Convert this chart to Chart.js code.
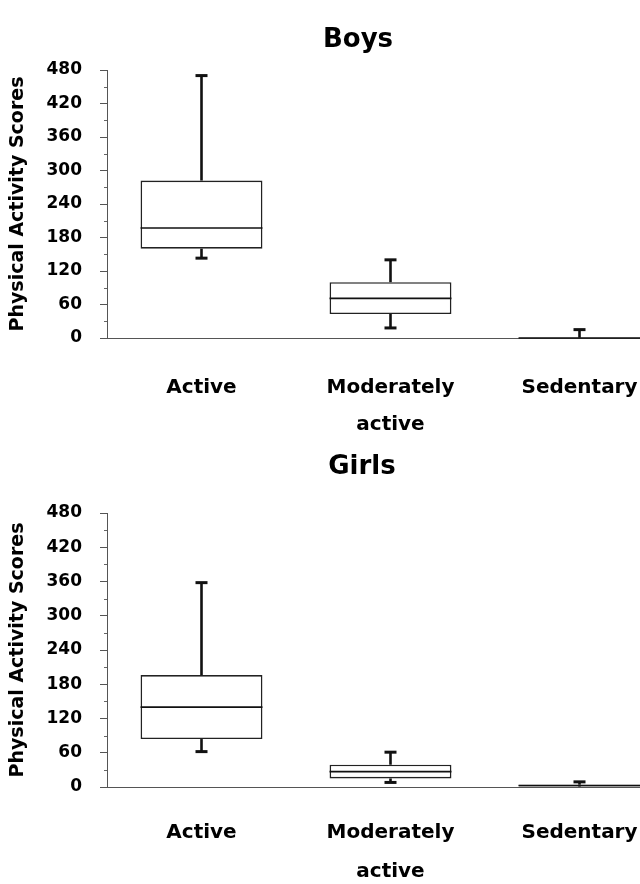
<!DOCTYPE html>
<html>
<head>
<meta charset="utf-8">
<script src="https://cdn.jsdelivr.net/npm/chart.js@4/dist/chart.umd.min.js"></script>
<style>
html,body{margin:0;padding:0;background:#fff;width:640px;height:884px;overflow:hidden;}
.panel{position:absolute;left:0;width:640px;overflow:hidden;background:#fff;}
.panel canvas{position:absolute;left:0;top:0;}
.ttl{position:absolute;font-family:"DejaVu Sans",sans-serif;font-weight:bold;font-size:26px;line-height:30px;color:#000;transform:translateX(-50%);white-space:nowrap;}
</style>
</head>
<body>
<div class="panel" style="top:0;height:440px;">
  <canvas id="c1" width="680" height="440"></canvas>
  <div class="ttl" style="left:358px;top:23px;">Boys</div>
</div>
<div class="panel" style="top:440px;height:444px;">
  <canvas id="c2" width="680" height="444"></canvas>
  <div class="ttl" style="left:362px;top:10px;">Girls</div>
</div>
<script>
// ---- data ----
const categories = [['Active'], ['Moderately', 'active'], ['Sedentary']];
const yTickValues = [0, 60, 120, 180, 240, 300, 360, 420, 480];
const yMinorTickValues = [30, 90, 150, 210, 270, 330, 390, 450];
const yAxisTitle = 'Physical Activity Scores';

const boysMin    = [143, 18, 0];
const boysQ1     = [160, 43, 0];
const boysMedian = [197, 71, 0];
const boysQ3     = [282, 100, 0.5];
const boysMax    = [470, 140, 15];

const girlsMin    = [62, 8, 0];
const girlsQ1     = [84, 15, 1];
const girlsMedian = [140, 27, 2.5];
const girlsQ3     = [196, 39, 4];
const girlsMax    = [358, 61, 9];

// ---- box & whisker drawing using the chart's own scales ----
const boxWhisker = {
  id: 'boxWhisker',
  afterDatasetsDraw(chart, args, opts) {
    const ctx = chart.ctx;
    const y = chart.scales.y;
    const meta = chart.getDatasetMeta(0);
    const line = (x1, y1, x2, y2) => { ctx.beginPath(); ctx.moveTo(x1, y1); ctx.lineTo(x2, y2); ctx.stroke(); };
    ctx.save();
    ctx.strokeStyle = '#111';
    meta.data.forEach((bar, i) => {
      const x = bar.x, hw = bar.width / 2;
      const pMed = y.getPixelForValue(opts.median[i]);
      const pQ1 = y.getPixelForValue(opts.q1[i]);
      const pQ3 = y.getPixelForValue(opts.q3[i]);
      const pMin = y.getPixelForValue(opts.min[i]);
      const pMax = y.getPixelForValue(opts.max[i]);
      ctx.lineWidth = 1.6;
      line(x - hw, pMed, x + hw, pMed);
      ctx.lineWidth = 2.6;
      if (pMax < pQ3) line(x, pQ3, x, pMax);
      if (pMin > pQ1) line(x, pQ1, x, pMin);
      ctx.lineWidth = 3;
      line(x - 6, pMax, x + 6, pMax);
      if (opts.min[i] > 0) line(x - 6, pMin, x + 6, pMin);
    });
    // minor ticks on the y axis
    ctx.strokeStyle = '#666';
    ctx.lineWidth = 1;
    const ax = chart.chartArea.left;
    yMinorTickValues.forEach(v => {
      const py = Math.round(y.getPixelForValue(v)) + 0.5;
      line(ax - 3, py, ax, py);
    });
    ctx.restore();
  }
};

function makeChart(id, q1, med, q3, mn, mx, topPad, xHeight, firstLinePad, lineH) {
  const tickFont = { family: 'DejaVu Sans', weight: 'bold', size: 17 };
  return new Chart(document.getElementById(id), {
    type: 'bar',
    data: {
      labels: categories,
      datasets: [{
        data: q1.map((v, i) => [v, q3[i]]),
        backgroundColor: '#ffffff',
        borderColor: '#222',
        borderWidth: 1.6,
        borderSkipped: false,
        categoryPercentage: 1,
        barPercentage: 0.645
      }]
    },
    options: {
      responsive: false,
      animation: false,
      layout: { padding: { left: 7, right: 6, top: topPad, bottom: 0 } },
      plugins: {
        legend: { display: false },
        tooltip: { enabled: false },
        title: { display: false },
        boxWhisker: { q1: q1, median: med, q3: q3, min: mn, max: mx }
      },
      scales: {
        x: {
          offset: true,
          grid: { display: true, drawOnChartArea: false, drawTicks: false },
          border: { display: true, color: '#555', width: 1 },
          ticks: {
            color: '#000',
            font: { family: 'DejaVu Sans', weight: 'bold', size: 20, lineHeight: lineH + 'px' },
            padding: firstLinePad,
            maxRotation: 0,
            autoSkip: false
          },
          afterFit: s => { s.height = xHeight; }
        },
        y: {
          min: 0,
          max: 480,
          afterBuildTicks: s => { s.ticks = yTickValues.map(v => ({ value: v })); },
          grid: { display: true, drawOnChartArea: false, drawTicks: true, tickLength: 7, color: '#555' },
          border: { display: true, color: '#555', width: 1 },
          ticks: { color: '#000', font: tickFont, padding: 18 },
          title: {
            display: true,
            text: yAxisTitle,
            color: '#000',
            font: { family: 'DejaVu Sans', weight: 'bold', size: 19, lineHeight: 1.2 },
            padding: 0
          },
          afterFit: s => { s.width = 100; }
        }
      }
    },
    plugins: [boxWhisker]
  });
}

makeChart('c1', boysQ1, boysMedian, boysQ3, boysMin, boysMax, 70, 102, 31, 37);
makeChart('c2', girlsQ1, girlsMedian, girlsQ3, girlsMin, girlsMax, 73, 97, 26, 39);
</script>
</body>
</html>
